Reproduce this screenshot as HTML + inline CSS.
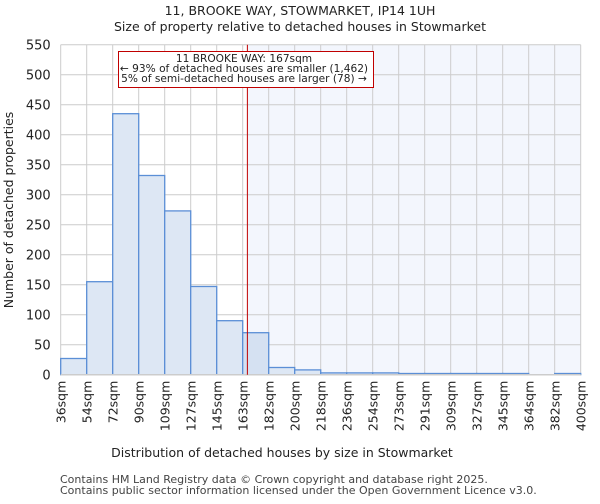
<!DOCTYPE html>
<html><head><meta charset="utf-8"><style>
body{margin:0;background:#fff;font-family:"DejaVu Sans","Liberation Sans",sans-serif}
</style></head><body>
<svg width="600" height="500" xmlns="http://www.w3.org/2000/svg" font-family="DejaVu Sans, Liberation Sans, sans-serif">
<text x="300" y="15" text-anchor="middle" font-size="12.5" fill="#222">11, BROOKE WAY, STOWMARKET, IP14 1UH</text>
<text x="300" y="31" text-anchor="middle" font-size="12.5" fill="#222">Size of property relative to detached houses in Stowmarket</text>
<g id="plot"></g>
<text x="282" y="457" text-anchor="middle" font-size="12.5" fill="#222">Distribution of detached houses by size in Stowmarket</text>
<text transform="translate(13,210) rotate(-90)" text-anchor="middle" font-size="12.5" fill="#222">Number of detached properties</text>
<text x="60" y="483" font-size="11" fill="#444">Contains HM Land Registry data © Crown copyright and database right 2025.</text>
<text x="60" y="494" font-size="11" fill="#444">Contains public sector information licensed under the Open Government Licence v3.0.</text>
</svg>
<script>
const categories=["36sqm","54sqm","72sqm","90sqm","109sqm","127sqm","145sqm","163sqm","182sqm","200sqm","218sqm","236sqm","254sqm","273sqm","291sqm","309sqm","327sqm","345sqm","364sqm","382sqm","400sqm"];
const counts=[27,155,435,332,273,147,90,70,12,8,3,3,3,2,2,2,2,2,0,2];
const yTicks=[0,50,100,150,200,250,300,350,400,450,500,550];
const propertyBin=7.18;
const NS="http://www.w3.org/2000/svg";
const g=document.getElementById("plot");
const X0=60.7,BW=26,Y0=374.7,YT=44.7,YMAX=550;
const x=i=>X0+i*BW;
const y=v=>Y0-(v/YMAX)*(Y0-YT);
const W=counts.length;
function mk(t,a,p){const e=document.createElementNS(NS,t);for(const k in a)e.setAttribute(k,a[k]);(p||g).appendChild(e);return e;}
const hl=mk("rect",{x:x(propertyBin),y:YT,width:x(W)-x(propertyBin),height:Y0-YT,fill:"#f3f6fd"});


for(let i=0;i<=W;i++){const l=mk("line",{x1:x(i),x2:x(i),y1:YT,y2:Y0,stroke:"#cccccc","stroke-width":1});

}
yTicks.forEach(v=>{const l=mk("line",{x1:X0,x2:x(W),y1:y(v),y2:y(v),stroke:"#cccccc","stroke-width":1});


const t=mk("text",{x:X0-10,y:y(v)+5,"text-anchor":"end","font-size":13,fill:"#222"});t.textContent=v;

});
counts.forEach((c,i)=>{if(c<=0)return;const r=mk("rect",{x:x(i),y:y(c),width:BW,height:Y0-y(c),fill:i===Math.floor(propertyBin)?"#d5e1f2":"#dde7f4",stroke:"#5b8fd6","stroke-width":1.3});

});
categories.forEach((c,i)=>{const t=mk("text",{transform:`translate(${x(i)+5},${Y0+6}) rotate(-90)`,"text-anchor":"end","font-size":12.5,fill:"#222"});t.textContent=c;

});
const ax=mk("line",{x1:X0,x2:x(W),y1:Y0,y2:Y0,stroke:"#ccc","stroke-width":1.5});


const pl=mk("line",{x1:x(propertyBin),x2:x(propertyBin),y1:YT,y2:Y0,stroke:"#c00000","stroke-width":1});


const box=mk("rect",{x:118.5,y:51.5,width:255,height:36,fill:"#fff",stroke:"#c00000","stroke-width":1});


[["11 BROOKE WAY: 167sqm",62],["← 93% of detached houses are smaller (1,462)",72],["5% of semi-detached houses are larger (78) →",82]].forEach(([s,yy])=>{const t=mk("text",{x:244,y:yy,"text-anchor":"middle","font-size":10.6,fill:"#222"});t.textContent=s;

});
</script>
</body></html>
